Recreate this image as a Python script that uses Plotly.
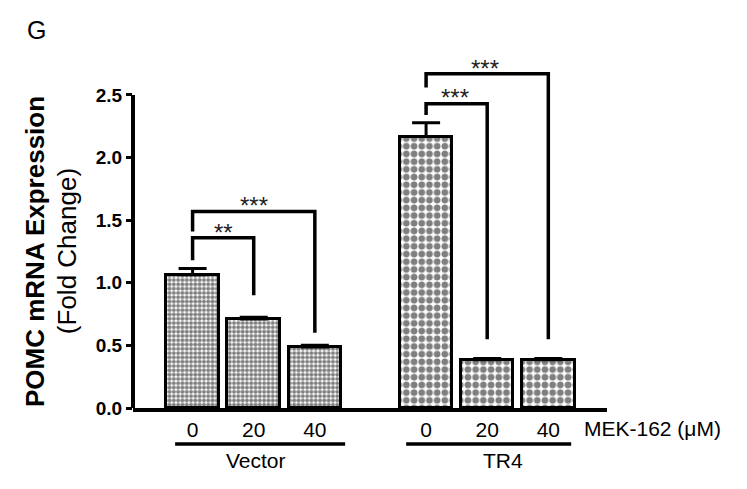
import plotly.graph_objects as go

# ---- data ----
doses = ["0", "20", "40"]
groups = ["Vector", "TR4"]
vector_mean = [1.065, 0.71, 0.487]
vector_err = [0.05, 0.015, 0.015]
tr4_mean = [2.168, 0.385, 0.385]
tr4_err = [0.11, 0.01, 0.01]
tick_vals_y = [0, 0.5, 1.0, 1.5, 2.0, 2.5]

# layout positions (category slots)
vec_x = [0, 1, 2]
tr4_x = [3.82, 4.82, 5.82]

# significance brackets: (x list, y list, label, label x, label y)
brackets = [
    ([0, 0, 1, 1], [1.18, 1.36, 1.36, 0.90], "**", 0.5, 1.40),
    ([0, 0, 2, 2], [1.41, 1.57, 1.57, 0.60], "***", 1.0, 1.62),
    ([3.82, 3.82, 4.82, 4.82], [2.34, 2.43, 2.43, 0.55], "***", 4.30, 2.476),
    ([3.82, 3.82, 5.82, 5.82], [2.56, 2.67, 2.67, 0.55], "***", 4.78, 2.708),
]

FONT = "Liberation Sans"

fig = go.Figure()

fig.add_trace(go.Bar(
    x=vec_x, y=vector_mean, width=0.86,
    marker=dict(color="white", line=dict(color="black", width=3),
                pattern=dict(shape=".", size=4.3, solidity=0.65, fgcolor="black", bgcolor="white")),
    error_y=dict(type="data", symmetric=False, array=vector_err, arrayminus=[0, 0, 0],
                 color="black", thickness=3, width=14),
    showlegend=False,
))
fig.add_trace(go.Bar(
    x=tr4_x, y=tr4_mean, width=0.86,
    marker=dict(color="white", line=dict(color="black", width=3),
                pattern=dict(shape=".", size=7.7, solidity=0.6, fgcolor="black", bgcolor="white")),
    error_y=dict(type="data", symmetric=False, array=tr4_err, arrayminus=[0, 0, 0],
                 color="black", thickness=3, width=14),
    showlegend=False,
))

annotations = []
for bx, by, lab, sx, sy in brackets:
    fig.add_trace(go.Scatter(x=bx, y=by, mode="lines",
                             line=dict(color="black", width=3.5),
                             showlegend=False, hoverinfo="skip"))
    annotations.append(dict(x=sx, y=sy, xref="x", yref="y", text=lab, showarrow=False,
                            xanchor="center", yanchor="middle",
                            font=dict(family=FONT, size=24, color="#222222")))

# y-axis title (two lines)
annotations.append(dict(x=-0.2068, y=0.4385, xref="paper", yref="paper",
                        text="<b>POMC mRNA Expression</b>", textangle=-90, showarrow=False,
                        xanchor="center", yanchor="middle",
                        font=dict(family=FONT, size=26, color="black")))
annotations.append(dict(x=-0.139, y=0.4385, xref="paper", yref="paper",
                        text="(Fold Change)", textangle=-90, showarrow=False,
                        xanchor="center", yanchor="middle",
                        font=dict(family=FONT, size=26, color="black")))
# panel letter
annotations.append(dict(x=-0.2046, y=1.056, xref="paper", yref="paper", text="G",
                        showarrow=False, xanchor="center", yanchor="middle",
                        font=dict(family=FONT, size=25, color="black")))
# dose unit label
annotations.append(dict(x=6.375, y=-0.0559, xref="x", yref="paper", text="MEK-162 (μM)",
                        showarrow=False, xanchor="left", yanchor="middle",
                        font=dict(family=FONT, size=21, color="black")))
# group labels
annotations.append(dict(x=1.04, y=-0.148, xref="x", yref="paper", text=groups[0],
                        showarrow=False, xanchor="center", yanchor="middle",
                        font=dict(family=FONT, size=21, color="black")))
annotations.append(dict(x=5.08, y=-0.148, xref="x", yref="paper", text=groups[1],
                        showarrow=False, xanchor="center", yanchor="middle",
                        font=dict(family=FONT, size=21, color="black")))

shapes = [
    # y axis line from 0 to 2.5
    dict(type="line", xref="paper", yref="y", x0=0, x1=0, y0=-0.01, y1=2.5,
         line=dict(color="black", width=4), layer="above"),
    # group underlines
    dict(type="line", xref="x", yref="paper", x0=-0.286, x1=2.496, y0=-0.1006, y1=-0.1006,
         line=dict(color="black", width=3.5)),
    dict(type="line", xref="x", yref="paper", x0=3.494, x1=6.194, y0=-0.1006, y1=-0.1006,
         line=dict(color="black", width=3.5)),
]

# the page body adds an 8px offset, so the figure is 8px smaller and margins shifted
fig.update_layout(
    width=739, height=481,
    margin=dict(l=125, r=140, t=42, b=81),
    paper_bgcolor="white", plot_bgcolor="white",
    bargap=0,
    annotations=annotations, shapes=shapes,
    xaxis=dict(range=[-0.975, 6.78], tickvals=vec_x + tr4_x, ticktext=doses + doses,
               showline=True, linecolor="black", linewidth=4, ticks="",
               showgrid=False, zeroline=False,
               tickfont=dict(family=FONT, size=21, color="black")),
    yaxis=dict(range=[0, 2.859], tickvals=tick_vals_y, tickformat=".1f",
               showline=False, ticks="outside", ticklen=6, tickwidth=3, tickcolor="black",
               showgrid=False, zeroline=False,
               tickfont=dict(family=FONT, size=19, color="black", weight="bold")),
)

fig.write_html("out.html")
